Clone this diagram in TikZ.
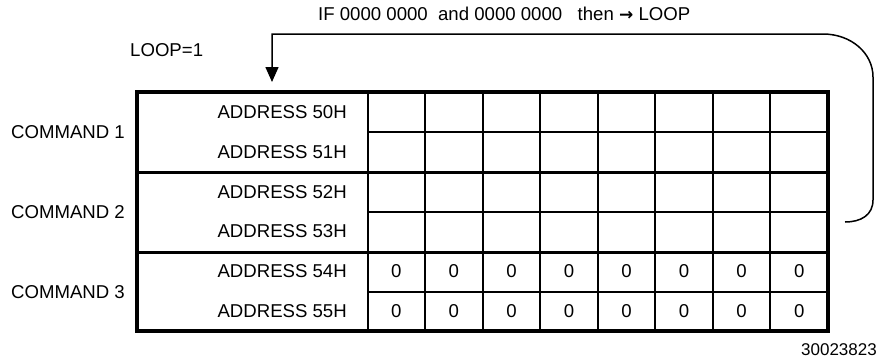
\documentclass[tikz,border=0pt]{standalone}
\usepackage{fontspec}
\setmainfont{Liberation Sans}
\newfontfamily\arrowfont{DejaVu Sans}
\usetikzlibrary{arrows.meta}
\tikzset{
    txt/.style = {inner sep=0pt, font=\fontsize{18.6}{22}\selectfont},
    addr-label/.style = {txt, anchor=east},
    cmd-label/.style = {txt, anchor=east},
    bit/.style = {txt},
    thin-rule/.style = {line width=2pt},
    cmd-rule/.style = {line width=3pt},
    frame/.style = {line width=4pt},
    loop-line/.style = {line width=1.5pt, -{Triangle[width=13pt,length=15pt]}},
}

\begin{document}
\begin{tikzpicture}[x=1pt,y=-1pt]
\useasboundingbox (0,0) rectangle (879,362);
\foreach \y in {132,212,292} \draw[thin-rule] (367.5,\y) -- (828,\y);
\foreach \y in {172,252} \draw[cmd-rule] (137,\y) -- (828,\y);
\foreach \i in {0,...,7} \draw[thin-rule] ({367.5+57.56*\i},92) -- ({367.5+57.56*\i},331);
\draw[frame] (137,92) rectangle (828,331);
\foreach \n [count=\i from 0] in {50,51,52,53,54,55}
    \node[addr-label] (addr\n) at (347,{112+39.83*\i}) {ADDRESS \n H};
\foreach \c in {1,2,3}
    \node[cmd-label] (cmd\c) at (125,{52+80*\c}) {COMMAND \c};
\foreach \r in {4,5}
    \foreach \k in {0,...,7}
        \node[bit] (bit\r\k) at ({396.3+57.56*\k},{112+39.83*\r}) {0};
\node[txt, anchor=west] (cond) at (318,14) {IF 0000 0000\ \ and 0000 0000\ \ \ then {\arrowfont\bfseries\fontsize{17}{20}\selectfont →} LOOP};
\node[txt, anchor=west] (loopset) at (130,50) {LOOP=1};
\node[txt, anchor=east, font=\fontsize{17}{20}\selectfont] (figid) at (877,350) {30023823};
\coordinate (loop-end) at (845,222);
\coordinate (loop-tip) at (272,82);
\draw[loop-line] (loop-end) .. controls (861,222) and (873,215) .. (873,200) -- (873,77)
    .. controls (873,53) and (851,34) .. (823,34) -- (272,34) -- (loop-tip);
\end{tikzpicture}
\end{document}
